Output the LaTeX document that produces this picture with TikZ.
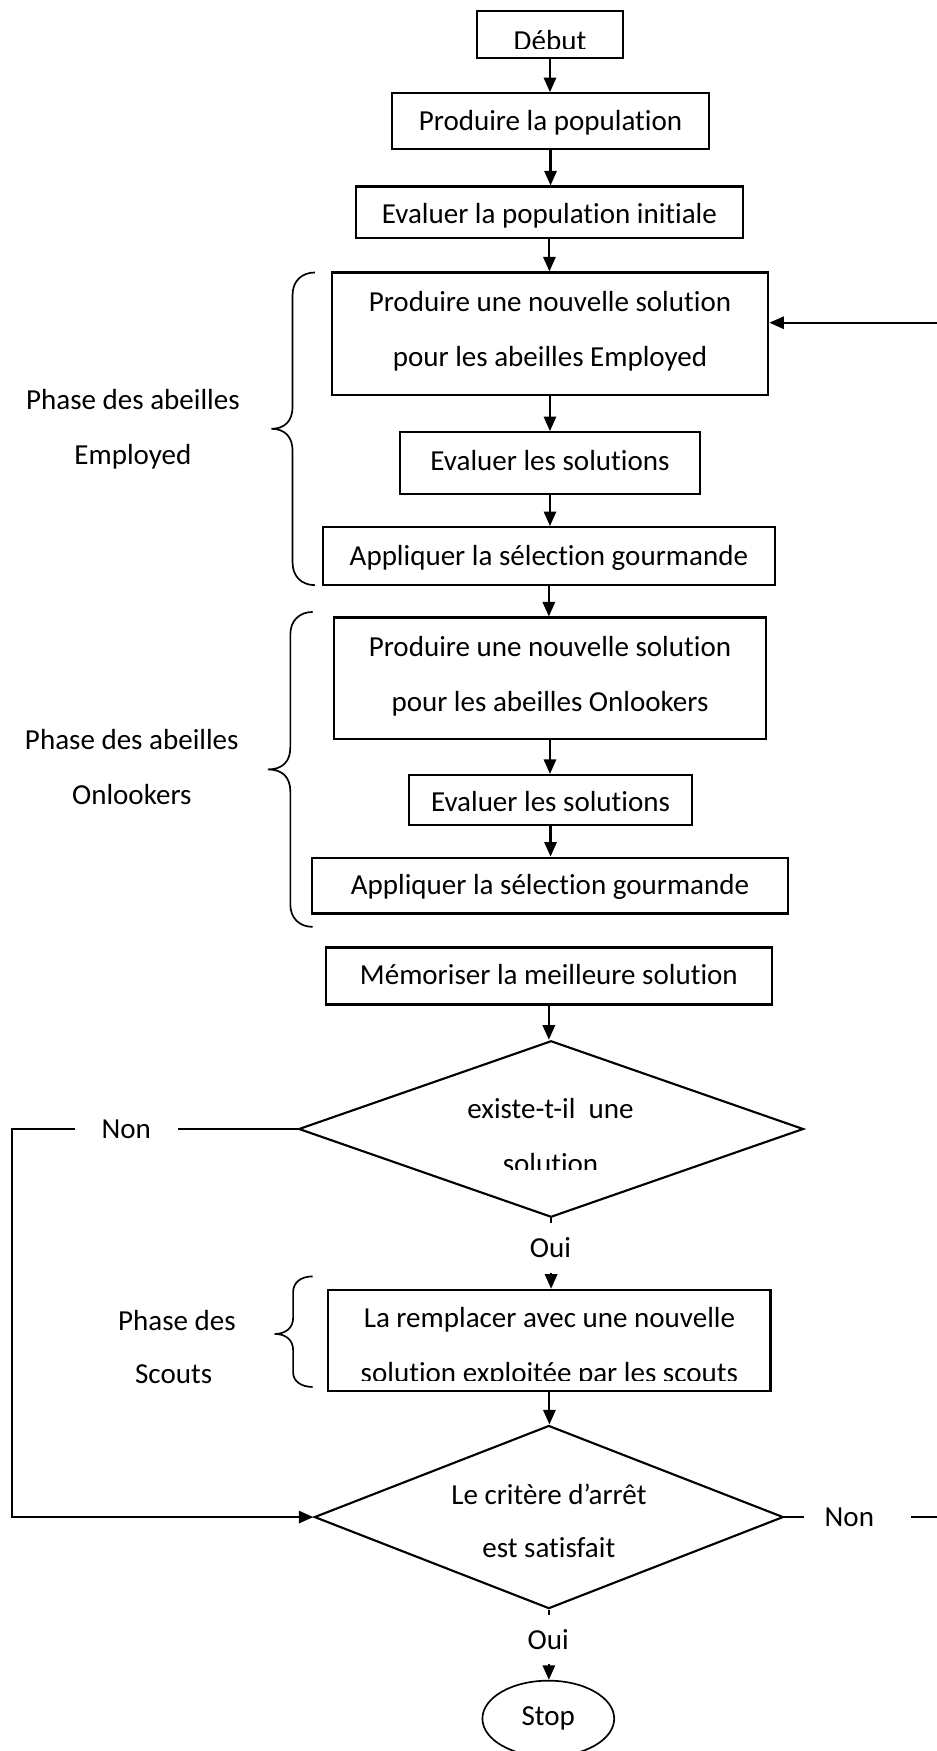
\documentclass[tikz,border=0pt]{standalone}
\usepackage{fontspec}
\setmainfont{Carlito}[Ligatures=NoCommon]
\usetikzlibrary{arrows.meta,shapes.geometric}
\begin{document}
\begin{tikzpicture}[x=1pt,y=-1pt,
  box/.style={draw, line width=1.9pt, inner sep=0pt},
  txt/.style={font=\fontsize{26}{31}\selectfont, inner sep=0pt, anchor=base},
  arr/.style={line width=1.9pt, -{Triangle[length=13pt,width=11pt]}},
  lbl/.style={fill=white, font=\fontsize{26}{31}\selectfont, inner ysep=0pt},
  brc/.style={line width=1.5pt}]
\path[use as bounding box] (0,0) rectangle (839,1568);
\clip (0,0) rectangle (839,1568);
\fill[white] (0,0) rectangle (839,1568);

% boxes
\node[box, minimum width=131pt, minimum height=42pt] (debut) at (492.5,31) {};
\node[box, minimum width=284pt, minimum height=50pt] (prod) at (493,108.5) {};
\node[box, minimum width=346pt, minimum height=46pt] (evalinit) at (492,190) {};
\node[box, minimum width=391pt, minimum height=110pt] (prodemp) at (492.5,299) {};
\node[box, minimum width=269pt, minimum height=55pt] (evalemp) at (492.5,414.5) {};
\node[box, minimum width=405pt, minimum height=52pt] (applemp) at (491.5,498) {};
\node[box, minimum width=387pt, minimum height=109pt] (prodonl) at (492.5,607.5) {};
\node[box, minimum width=254pt, minimum height=45pt] (evalonl) at (493,716.5) {};
\node[box, minimum width=427pt, minimum height=50pt] (applonl) at (492.5,793) {};
\node[box, minimum width=399pt, minimum height=51pt] (memo) at (491.5,874) {};
\node[box, shape=diamond, minimum width=452pt, minimum height=158pt] (d1) at (493.5,1011) {};
\node[box, minimum width=396pt, minimum height=91pt] (scouts) at (492,1200.5) {};
\node[box, shape=diamond, minimum width=420pt, minimum height=164pt] (d2) at (491.5,1358.5) {};
\node[box, shape=ellipse, line width=1.5pt, minimum width=118pt, minimum height=68pt,
      font=\fontsize{26}{31}\selectfont] (stop) at (491,1539) {Stop};

% texts
\begin{scope}
  \clip (420,12) rectangle (565,43);
  \node[txt] (tdebut) at (492.5,45) {Début};
\end{scope}
\node[txt] (tprod) at (493,117) {Produire la population};
\node[txt] (tevalinit) at (492,200) {Evaluer la population initiale};
\node[txt] (tpe1) at (492.5,279) {Produire une nouvelle solution};
\node[txt] (tpe2) at (492.5,328) {pour les abeilles Employed};
\node[txt] (tevalemp) at (492.5,421) {Evaluer les solutions};
\node[txt] (tapplemp) at (491.5,506) {Appliquer la sélection gourmande};
\node[txt] (tpo1) at (492.5,588) {Produire une nouvelle solution};
\node[txt] (tpo2) at (492.5,637) {pour les abeilles Onlookers};
\node[txt] (tevalonl) at (493,727) {Evaluer les solutions};
\node[txt] (tapplonl) at (492.5,801) {Appliquer la sélection gourmande};
\node[txt] (tmemo) at (491.5,882) {Mémoriser la meilleure solution};
\node[txt] (td1a) at (493,1002) {existe-t-il\ \ une};
\begin{scope}
  \clip (400,1020) rectangle (590,1047.5);
  \node[txt] (td1b) at (493,1051) {solution};
\end{scope}
\node[txt] (ts1) at (492,1189) {La remplacer avec une nouvelle};
\begin{scope}
  \clip (300,1205) rectangle (685,1236);
  \node[txt] (ts2) at (492,1238) {solution exploitée par les scouts};
\end{scope}
\node[txt] (td2a) at (491.5,1347) {Le critère d’arrêt};
\node[txt] (td2b) at (491.5,1395) {est satisfait};

% side labels
\node[txt] (pe1) at (119,367) {Phase des abeilles};
\node[txt] (pe2) at (119,416) {Employed};
\node[txt] (po1) at (118,671) {Phase des abeilles};
\node[txt] (po2) at (118,720) {Onlookers};
\node[txt] (ps1) at (158.5,1191) {Phase des};
\node[txt] (ps2) at (155.5,1239) {Scouts};

% braces
\draw[brc] (282,244) .. controls (270,244) and (262,252) .. (262,264) -- (262,364)
  .. controls (262,377) and (255,384) .. (243,384)
  .. controls (255,384) and (262,391) .. (262,404) -- (262,504)
  .. controls (262,516) and (270,524) .. (282,524);
\draw[brc] (280,548) .. controls (268,548) and (260,556) .. (260,568) -- (260,669)
  .. controls (260,682) and (253,689) .. (240,689)
  .. controls (253,689) and (260,696) .. (260,709) -- (260,810)
  .. controls (260,822) and (268,830) .. (280,830);
\draw[brc] (280,1143) .. controls (270,1143) and (262.5,1148) .. (262.5,1157) -- (262.5,1180)
  .. controls (262.5,1189) and (256,1194.5) .. (246,1194.5)
  .. controls (256,1194.5) and (262.5,1200) .. (262.5,1209) -- (262.5,1229)
  .. controls (262.5,1237) and (270,1242) .. (280,1242);

% vertical connectors
\draw[arr] (debut.south) -- (debut.south |- prod.north);
\draw[arr] (prod.south) -- (prod.south |- evalinit.north);
\draw[arr] (evalinit.south) -- (evalinit.south |- prodemp.north);
\draw[arr] (prodemp.south) -- (prodemp.south |- evalemp.north);
\draw[arr] (evalemp.south) -- (evalemp.south |- applemp.north);
\draw[arr] (applemp.south) -- (applemp.south |- prodonl.north);
\draw[arr] (prodonl.south) -- (prodonl.south |- evalonl.north);
\draw[arr] (evalonl.south) -- (evalonl.south |- applonl.north);
\draw[arr] (memo.south) -- (memo.south |- d1.north);
\draw[arr] (d1.south) -- (d1.south |- scouts.north);
\draw[arr] (scouts.south) -- (scouts.south |- d2.north);
\draw[arr] (d2.south) -- (d2.south |- stop.north);

% loops
\coordinate (cl1) at (10.5,1011);
\coordinate (cl2) at (10.5,1358.5);
\draw[arr] (d1.west) -- (d1.west -| cl1) -- (cl2) -- (d2.west);
\coordinate (cr1) at (870,1358.5);
\coordinate (cr2) at (870,289);
\draw[arr] (d2.east) -- (d2.east -| cr1) -- (cr2) -- (cr2 -| prodemp.east);

% labels on connectors
\node[lbl, minimum width=92pt, inner xsep=0pt] (nonL) at (113,1011) {Non};
\node[lbl, text width=59pt, align=left, inner xsep=18.5pt] (nonR) at (768,1358.5) {Non};
\node[lbl, minimum height=45pt, inner xsep=4pt] (oui1) at (493,1117.5) {Oui};
\node[lbl, minimum height=44pt, inner xsep=4pt] (oui2) at (491,1468) {Oui};
\end{tikzpicture}
\end{document}
